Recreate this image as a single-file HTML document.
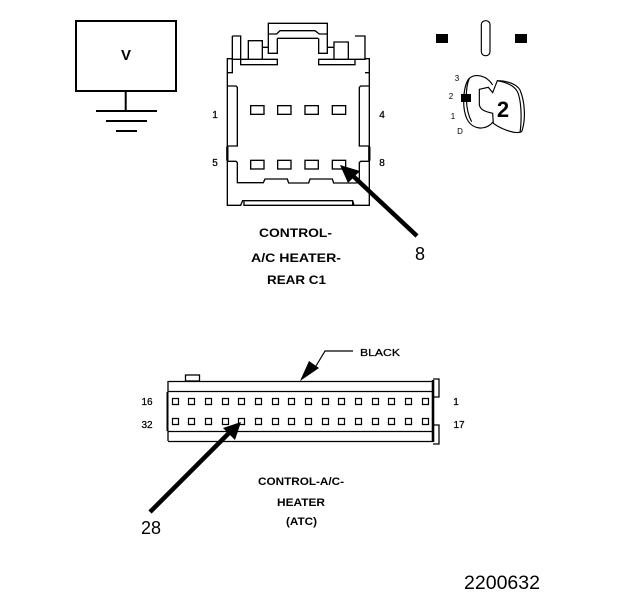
<!DOCTYPE html>
<html><head><meta charset="utf-8"><style>
html,body{margin:0;padding:0;background:#fff}
svg{display:block}
text{font-family:"Liberation Sans",sans-serif;fill:#000}
.b{font-weight:bold;font-size:12px;lengthAdjust:spacingAndGlyphs}
.c{font-weight:bold;font-size:11px}
.s{font-size:10px;text-anchor:middle;stroke:#000;stroke-width:.25}
.n{font-size:18px;text-anchor:middle}
</style></head><body>
<svg width="624" height="600" viewBox="0 0 624 600" xmlns="http://www.w3.org/2000/svg">
<g fill="none" stroke="#000" stroke-width="2">
<rect x="76" y="21" width="100" height="70"/>
<path d="M125.700 91V111M96 111H157M106 121H147M116 131H137"/>
</g>
<text x="126" y="60" text-anchor="middle" font-size="15" font-weight="bold">V</text>

<g transform="translate(200 10) scale(.3333)" fill="none" stroke="#000" stroke-width="4">
<path d="M205 72V40H382V72M205 72H230L240 62H345L358 72H382"/>
<path d="M232 85H355M205 72V130H232V85M382 72V130H356V85"/>
<path d="M97 78H122V148H232V164H122V148M122 148H97V78"/>
<path d="M465 78H495V148H356V164H465V148"/>
<path d="M145 148V92H187V148M402 148V96H445V148M187 112H205M382 112H402"/>
<path d="M97 146H82V188H97V146M495 146H508V188H495"/>
<path d="M82 188V228M508 188V228"/>
<path d="M82 228H108L112 232V408H82ZM508 228H482L478 232V408H508Z"/>
<path d="M82 408V586H122L128 572H458L462 586H508V408"/>
<path d="M132 574V586H458V574"/>
<path d="M82 454H108L112 458V518H190L195 507H262L266 519H326L330 507H397L401 519H467L478 518V458L482 454H508"/>
<rect x="152" y="287" width="40" height="26"/><rect x="233" y="287" width="40" height="26"/><rect x="315" y="287" width="40" height="26"/><rect x="397" y="287" width="40" height="26"/>
<rect x="152" y="451" width="40" height="26"/><rect x="233" y="451" width="40" height="26"/><rect x="315" y="451" width="40" height="26"/><rect x="397" y="451" width="40" height="26"/>
<path d="M82 410V452M508 410V452" stroke-width="7"/>
</g>
<text class="s" x="215" y="118">1</text><text class="s" x="382" y="118">4</text>
<text class="s" x="215" y="166">5</text><text class="s" x="382" y="166">8</text>

<path d="M417 236L352 175" stroke="#000" stroke-width="4.500" fill="none"/>
<path d="M340 165L360 171L348 183Z" fill="#000"/>
<text class="n" x="420" y="260">8</text>

<text class="b" x="259" y="237" textLength="73" lengthAdjust="spacingAndGlyphs">CONTROL-</text>
<text class="b" x="251" y="262" textLength="90" lengthAdjust="spacingAndGlyphs">A/C HEATER-</text>
<text class="b" x="267" y="284" textLength="59" lengthAdjust="spacingAndGlyphs">REAR C1</text>

<g transform="translate(420 10) scale(.3333)" fill="none" stroke="#000" stroke-width="3.500">
<rect x="184" y="32" width="26" height="105" rx="12"/>
<path d="M218 225C200 195 165 190 148 205C130 225 125 290 140 325C155 358 195 365 220 335"/>
<path d="M148 205C135 235 135 300 155 335"/>
<path d="M178 238L205 232L218 248L232 212C260 212 290 222 300 240C315 275 318 330 305 365C285 375 240 355 220 340L218 310C195 305 182 300 178 285Z"/>
<path d="M232 212C265 218 290 230 296 255C305 285 305 335 300 368"/>
</g>
<rect x="436" y="34" width="12" height="9" fill="#000"/>
<rect x="515" y="34" width="12" height="9" fill="#000"/>
<rect x="461" y="94" width="10" height="8" fill="#000"/>
<text x="503" y="117" text-anchor="middle" font-size="22" font-weight="bold">2</text>
<g font-size="8" text-anchor="middle">
<text x="457" y="81">3</text><text x="451" y="99">2</text><text x="453" y="119">1</text><text x="460" y="134">D</text>
</g>

<path d="M316 366L325 351H353" fill="none" stroke="#000" stroke-width="1.200"/>
<path d="M300 381L309 361L319 368Z" fill="#000"/>
<text x="360" y="356" font-size="10" textLength="40" lengthAdjust="spacingAndGlyphs" stroke="#000" stroke-width=".25">BLACK</text>

<g fill="none" stroke="#000" stroke-width="1.300">
<rect x="185.500" y="375" width="14" height="6"/>
<path d="M168 381.500H433M168 391.500H433M168 441.500H433M168 431.500H433M168 381V392M168 431V441"/>
<path d="M433 379H439V397H434M434 425H439V444H433"/>
<path d="M167.500 392V431" stroke-width="2"/>
<path d="M433 380V442" stroke-width="2.600"/>
</g>
<g fill="none" stroke="#000" stroke-width="1.200">
<path d="M172.500 398.500h6v6h-6zM172.500 418.500h6v6h-6zM188.500 398.500h6v6h-6zM188.500 418.500h6v6h-6zM205.500 398.500h6v6h-6zM205.500 418.500h6v6h-6zM222.500 398.500h6v6h-6zM222.500 418.500h6v6h-6zM238.500 398.500h6v6h-6zM238.500 418.500h6v6h-6zM255.500 398.500h6v6h-6zM255.500 418.500h6v6h-6zM272.500 398.500h6v6h-6zM272.500 418.500h6v6h-6zM288.500 398.500h6v6h-6zM288.500 418.500h6v6h-6zM305.500 398.500h6v6h-6zM305.500 418.500h6v6h-6zM322.500 398.500h6v6h-6zM322.500 418.500h6v6h-6zM338.500 398.500h6v6h-6zM338.500 418.500h6v6h-6zM355.500 398.500h6v6h-6zM355.500 418.500h6v6h-6zM372.500 398.500h6v6h-6zM372.500 418.500h6v6h-6zM388.500 398.500h6v6h-6zM388.500 418.500h6v6h-6zM405.500 398.500h6v6h-6zM405.500 418.500h6v6h-6zM422.500 398.500h6v6h-6zM422.500 418.500h6v6h-6z"/>
</g>
<text class="s" x="147" y="405">16</text><text class="s" x="147" y="428">32</text>
<text class="s" x="456" y="405">1</text><text class="s" x="459" y="428">17</text>

<path d="M150 512L230 432" stroke="#000" stroke-width="4.500" fill="none"/>
<path d="M241 422L235 440L223 428Z" fill="#000"/>
<text class="n" x="151" y="534">28</text>

<text class="c" x="258" y="485" textLength="86" lengthAdjust="spacingAndGlyphs">CONTROL-A/C-</text>
<text class="c" x="277" y="506" textLength="48" lengthAdjust="spacingAndGlyphs">HEATER</text>
<text class="c" x="286" y="525" textLength="31" lengthAdjust="spacingAndGlyphs">(ATC)</text>

<text x="464" y="589" font-size="19" textLength="76" lengthAdjust="spacingAndGlyphs">2200632</text>
</svg>
</body></html>
